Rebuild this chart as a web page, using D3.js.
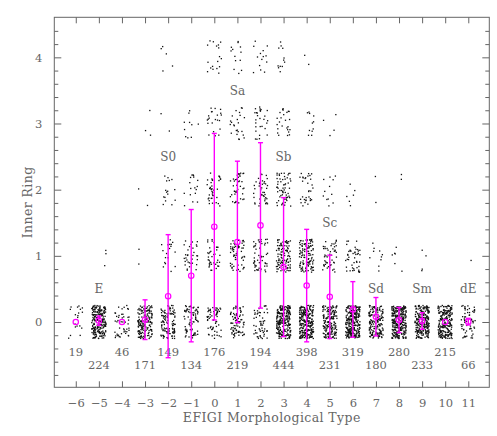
<!DOCTYPE html>
<html>
<head>
<meta charset="utf-8">
<script src="https://cdn.jsdelivr.net/npm/d3@7"></script>
<style>
  body { margin: 0; background: #fff; }
  text { font-family: "DejaVu Serif", serif; fill: #666; }
</style>
</head>
<body>
<div id="grafico"></div>
<script>
// EFIGI type on the x axis
var types = [-6, -5, -4, -3, -2, -1, 0, 1, 2, 3, 4, 5, 6, 7, 8, 9, 10, 11];
// number of galaxies per type (numbers printed under the clusters)
var nGal = [19, 224, 46, 171, 149, 134, 176, 219, 194, 444, 398, 231, 319, 180, 280, 233, 215, 66];

// galaxies per Inner Ring value (0..4), read from the dot clusters
var ring0 = [19, 221, 46, 164, 108, 74, 60, 80, 55, 237, 243, 165, 268, 168, 272, 229, 215, 65];
var ring1 = [0, 3, 0, 2, 18, 33, 38, 60, 55, 110, 110, 50, 45, 10, 6, 4, 0, 1];
var ring2 = [0, 0, 0, 2, 16, 17, 38, 42, 42, 60, 32, 12, 6, 2, 2, 0, 0, 0];
var ring3 = [0, 0, 0, 3, 2, 10, 22, 24, 28, 25, 11, 4, 0, 0, 0, 0, 0, 0];
var ring4 = [0, 0, 0, 0, 5, 0, 18, 13, 14, 12, 2, 0, 0, 0, 0, 0, 0, 0];

// mean value and dispersion (magenta circles and bars)
var meanRing = [0, 0.02, 0, 0.035, 0.39, 0.70, 1.44, 1.21, 1.46, 0.83, 0.55, 0.38, 0.19, 0.08, 0.03, 0.015, 0, 0.005];
var sdRing = [0, 0.07, 0, 0.30, 0.93, 1.00, 1.41, 1.22, 1.25, 1.05, 0.85, 0.63, 0.42, 0.29, 0.19, 0.125, 0, 0.05];

// class names
var classNames = ["E", "S0", "Sa", "Sb", "Sc", "Sd", "Sm", "dE"];
var classType = [-5, -2, 1, 3, 5, 7, 9, 11];
var classRing = [0.5, 2.5, 3.5, 2.5, 1.5, 0.5, 0.5, 0.5];

var yTicks = [0, 1, 2, 3, 4];

var W = 497, H = 436;
var margin = {left: 54.3, right: 489.3, top: 17.3, bottom: 387.3};

var svg = d3.select("#grafico").append("svg")
    .attr("width", W)
    .attr("height", H);

var x = d3.scaleLinear().domain([-6.93, 11.91]).range([margin.left, margin.right]);
var y = d3.scaleLinear().domain([-0.987, 4.605]).range([margin.bottom, margin.top]);

// jitter only (placement inside each cell), seeded so the picture is fixed
var jit = d3.randomLcg(0.2718);
var rings = [ring0, ring1, ring2, ring3, ring4];
var dots = [];
types.forEach(function (t, i) {
    rings.forEach(function (arr, r) {
        for (var k = 0; k < arr[i]; k++) {
            var u = jit(), v = jit();
            dots.push({x: t + (u - 0.5) * 0.62, y: r + (v - 0.5) * 0.5});
        }
    });
});

svg.append("g").selectAll("rect")
    .data(dots)
    .enter().append("rect")
    .attr("x", function (d) { return x(d.x) - 0.65; })
    .attr("y", function (d) { return y(d.y) - 0.65; })
    .attr("width", 1.3)
    .attr("height", 1.3)
    .attr("fill", "#111");

// frame and ticks
var axisColor = "#666";
svg.append("rect")
    .attr("x", margin.left).attr("y", margin.top)
    .attr("width", margin.right - margin.left)
    .attr("height", margin.bottom - margin.top)
    .attr("fill", "none")
    .attr("stroke", axisColor)
    .attr("stroke-width", 1);

var xBottom = d3.axisBottom(x).tickValues(types).tickSize(-6).tickFormat(function (d) {
    return d < 0 ? "\u2212" + Math.abs(d) : d;
}).tickPadding(12);
var xTop = d3.axisTop(x).tickValues(types).tickSize(-6).tickFormat("");

var minorY = d3.range(-8, 24).map(function (k) { return k * 0.2; })
    .filter(function (v) { return Math.abs(v - Math.round(v)) > 1e-6 && v > -0.98 && v < 4.6; });

var yLeft = d3.axisLeft(y).tickValues(yTicks).tickSize(-7).tickPadding(12).tickFormat(d3.format("d"));
var yRight = d3.axisRight(y).tickValues(yTicks).tickSize(-7).tickFormat("");
var yLeftMinor = d3.axisLeft(y).tickValues(minorY).tickSize(-4).tickFormat("");
var yRightMinor = d3.axisRight(y).tickValues(minorY).tickSize(-4).tickFormat("");

function put(axis, tx, ty) {
    var a = svg.append("g")
        .attr("transform", "translate(" + tx + "," + ty + ")")
        .call(axis);
    a.select(".domain").remove();
    a.selectAll("line").attr("stroke", axisColor);
    a.selectAll("text").attr("font-size", 11.5).attr("fill", "#666")
        .attr("font-family", "DejaVu Serif, serif");
    return a;
}
put(xBottom, 0, margin.bottom);
put(xTop, 0, margin.top);
put(yLeft, margin.left, 0);
put(yRight, margin.right, 0);
put(yLeftMinor, margin.left, 0);
put(yRightMinor, margin.right, 0);

// galaxy counts, two alternating rows
svg.append("g").selectAll("text")
    .data(types)
    .enter().append("text")
    .attr("x", function (d) { return x(d); })
    .attr("y", function (d, i) { return i % 2 === 0 ? y(-0.45) : y(-0.65); })
    .attr("dy", "0.36em")
    .attr("text-anchor", "middle")
    .attr("font-size", 11.5)
    .text(function (d, i) { return nGal[i]; });

// class labels
svg.append("g").selectAll("text")
    .data(classNames)
    .enter().append("text")
    .attr("x", function (d, i) { return x(classType[i]); })
    .attr("y", function (d, i) { return y(classRing[i]); })
    .attr("dy", "0.36em")
    .attr("text-anchor", "middle")
    .attr("font-size", 12)
    .text(function (d) { return d; });

// mean and dispersion
var mag = "#ff00ff";
var stats = types.map(function (t, i) { return {t: t, m: meanRing[i], s: sdRing[i]}; });
var eg = svg.append("g");
var withBar = stats.filter(function (d) { return d.s > 0; });
eg.selectAll("line.bar")
    .data(withBar)
    .enter().append("line")
    .attr("x1", function (d) { return x(d.t); })
    .attr("x2", function (d) { return x(d.t); })
    .attr("y1", function (d) { return y(d.m - d.s); })
    .attr("y2", function (d) { return y(d.m + d.s); })
    .attr("stroke", mag).attr("stroke-width", 1.4);
[-1, 1].forEach(function (sign) {
    eg.selectAll("line.cap" + sign)
        .data(withBar)
        .enter().append("line")
        .attr("x1", function (d) { return x(d.t) - 2.5; })
        .attr("x2", function (d) { return x(d.t) + 2.5; })
        .attr("y1", function (d) { return y(d.m + sign * d.s); })
        .attr("y2", function (d) { return y(d.m + sign * d.s); })
        .attr("stroke", mag).attr("stroke-width", 1.4);
});
eg.selectAll("circle")
    .data(stats)
    .enter().append("circle")
    .attr("cx", function (d) { return x(d.t); })
    .attr("cy", function (d) { return y(d.m); })
    .attr("r", 2.7)
    .attr("fill", "none")
    .attr("stroke", mag)
    .attr("stroke-width", 1.2);

// axis titles
svg.append("text")
    .attr("x", (margin.left + margin.right) / 2)
    .attr("y", 417)
    .attr("dy", "0.36em")
    .attr("text-anchor", "middle")
    .attr("font-size", 12.5)
    .attr("letter-spacing", 0.4)
    .text("EFIGI Morphological Type");

svg.append("text")
    .attr("transform", "translate(27," + (margin.top + margin.bottom) / 2 + ") rotate(-90)")
    .attr("dy", "0.36em")
    .attr("text-anchor", "middle")
    .attr("font-size", 12.5)
    .attr("letter-spacing", 0.4)
    .text("Inner Ring");
</script>
</body>
</html>
